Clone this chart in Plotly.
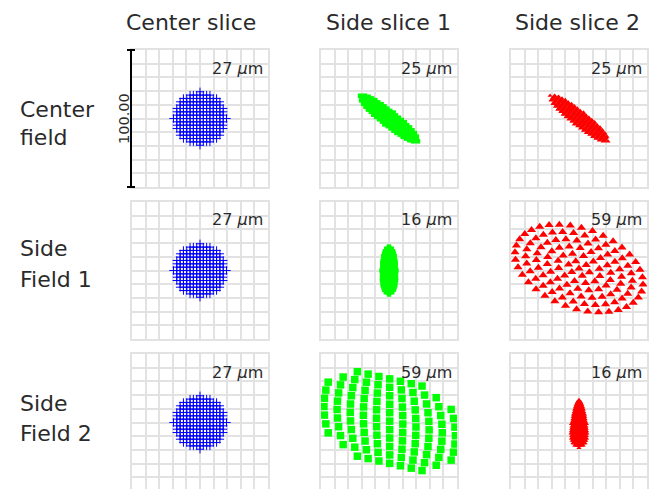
import numpy as np
import plotly.graph_objects as go

W, H = 657, 489

col_titles = ["Center slice", "Side slice 1", "Side slice 2"]
row_line1 = ["Center", "Side", "Side"]
row_line2 = ["field", "Field 1", "Field 2"]
rms_labels = [[27, 25, 25], [27, 16, 59], [27, 59, 16]]
scale_label = "100.00"

# spot envelope parameters (micrometres, relative to panel centre)
spot_cx = [[0, 0, 0], [0, 0, 0], [0, 0.5, 0]]
spot_cy = [[0, 0, 0], [0, 0, 1.5], [0, 1, -1]]
spot_a = [[19.5, 27, 27], [19.5, 17.5, 49], [19.5, 58, 17.5]]
spot_b = [[19.5, 5.5, 5.5], [19.5, 5.5, 29], [19.5, 37, 5.5]]
spot_ang = [[0, -38, -38], [0, 90, -20], [0, 0, 90]]
spot_shear = [[0, 0, 0], [0, 0, 0], [0, -0.22, 0]]
spot_bow = [[0, 0, 0], [0, 0, 0], [0, 0.35, 0]]
spot_taper = [[0, 0, 0], [0, 0.1, 0], [0, 0, 0.45]]
spot_pattern = [["blue", "fine", "fine"], ["blue", "fine", "rings"], ["blue", "coarse", "fine"]]
spot_size = [[6, 4.5, 4.5], [6, 4.5, 8], [6, 7.5, 4.5]]

# pupil sampling
pupil_blue = [-1.0, -0.875, -0.75, -0.625, -0.5, -0.375, -0.25, -0.125, 0.0,
              0.125, 0.25, 0.375, 0.5, 0.625, 0.75, 0.875, 1.0]
pupil_fine = [-1.0, -0.9, -0.8, -0.7, -0.6, -0.5, -0.4, -0.3, -0.2, -0.1, 0.0,
              0.1, 0.2, 0.3, 0.4, 0.5, 0.6, 0.7, 0.8, 0.9, 1.0]
pupil_coarse_u = [-1.0, -0.8333, -0.6667, -0.5, -0.3333, -0.1667, 0.0,
                  0.1667, 0.3333, 0.5, 0.6667, 0.8333, 1.0]
pupil_coarse_v = [-1.0, -0.8333, -0.6667, -0.5, -0.3333, -0.1667, 0.0,
                  0.1667, 0.3333, 0.5, 0.6667, 0.8333, 1.0]
ring_radius = [0.0, 0.1667, 0.3333, 0.5, 0.6667, 0.8333, 1.0]
ring_count = [1, 6, 12, 18, 24, 30, 36]

col_colors = ["#0000ff", "#00ff00", "#ff0000"]
col_symbols = ["cross-thin", "square", "triangle-up"]

FONT = "DejaVu Sans"
TXT = "#2a2a2a"
WEIGHT = 400

# layout in pixels
col_left = [132, 321, 511]
row_top = [50, 202, 354]
PW, PHt = 136, 137


def grid_pts(uvals, vvals, lim=1.0001):
    u, v = np.meshgrid(uvals, vvals)
    u, v = u.ravel(), v.ravel()
    m = u**2 + v**2 <= lim
    return u[m], v[m]


def ring_pts():
    us, vs = [], []
    for r, n in zip(ring_radius, ring_count):
        for k in range(n):
            t = 2 * np.pi * k / n
            us.append(r * np.cos(t))
            vs.append(r * np.sin(t))
    return np.array(us), np.array(vs)


fig = go.Figure()
layout = {}
annotations = []
shapes = []

for r in range(3):
    for c in range(3):
        idx = r * 3 + c + 1
        xa = "x" if idx == 1 else f"x{idx}"
        ya = "y" if idx == 1 else f"y{idx}"
        pat = spot_pattern[r][c]
        if pat == "blue":
            u, v = grid_pts(pupil_blue, pupil_blue)
        elif pat == "fine":
            u, v = grid_pts(pupil_fine, pupil_fine)
        elif pat == "coarse":
            u, v = grid_pts(pupil_coarse_u, pupil_coarse_v, 0.97)
        else:
            u, v = ring_pts()
        bow = spot_bow[r][c]
        u = u * (1 + bow * (1 - v**2)) / (1 + bow)
        v = v * (1 - spot_taper[r][c] * u)
        t = np.deg2rad(spot_ang[r][c])
        a, b = spot_a[r][c], spot_b[r][c]
        xl = a * u * np.cos(t) - b * v * np.sin(t)
        yl = a * u * np.sin(t) + b * v * np.cos(t)
        x = spot_cx[r][c] + xl
        y = spot_cy[r][c] + yl + spot_shear[r][c] * xl
        sym = col_symbols[c]
        if sym == "cross-thin":
            marker = dict(symbol=sym, size=spot_size[r][c], color=col_colors[c],
                          line=dict(color=col_colors[c], width=1))
        else:
            marker = dict(symbol=sym, size=spot_size[r][c], color=col_colors[c],
                          line=dict(width=0))
        fig.add_trace(go.Scatter(x=x, y=y, mode="markers", marker=marker,
                                 xaxis=xa, yaxis=ya, showlegend=False,
                                 hoverinfo="skip"))
        x0 = col_left[c] / W
        x1 = (col_left[c] + PW) / W
        top = row_top[r]
        bot = min(top + PHt, H)
        y1 = 1 - top / H
        y0 = 1 - bot / H
        yr_bottom = 50 - (bot - top) / PHt * 100
        axcommon = dict(showticklabels=False, ticks="", showgrid=True,
                        gridcolor="#e2e2e2", gridwidth=2, zeroline=False,
                        showline=True, linecolor="#e2e2e2", linewidth=2,
                        mirror=True, dtick=10, tick0=-50, fixedrange=True)
        layout["xaxis" if idx == 1 else f"xaxis{idx}"] = dict(
            domain=[x0, x1], range=[-50, 50], anchor=ya, **axcommon)
        layout["yaxis" if idx == 1 else f"yaxis{idx}"] = dict(
            domain=[y0, y1], range=[yr_bottom, 50], anchor=xa, **axcommon)
        annotations.append(dict(
            x=(col_left[c] + PW - 3) / W, y=1 - (top + 18) / H,
            xref="paper", yref="paper", xanchor="right", yanchor="middle",
            text=f"{rms_labels[r][c]} <i>μ</i>m", showarrow=False,
            font=dict(size=16, color=TXT, family=FONT, weight=WEIGHT)))

title_cx = [191, 388, 577]
for c in range(3):
    annotations.append(dict(
        x=title_cx[c] / W, y=1 - 22 / H, xref="paper", yref="paper",
        xanchor="center", yanchor="middle", text=col_titles[c], showarrow=False,
        font=dict(size=22, color=TXT, family=FONT, weight=WEIGHT)))

row_y1 = [110, 249, 403]
row_y2 = [138, 279, 433]
for r in range(3):
    for txt, yy in ((row_line1[r], row_y1[r]), (row_line2[r], row_y2[r])):
        annotations.append(dict(
            x=18 / W, y=1 - yy / H, xref="paper", yref="paper",
            xanchor="left", yanchor="middle", align="left", text=txt,
            showarrow=False,
            font=dict(size=22, color=TXT, family=FONT, weight=WEIGHT)))

# scale bar
sx = 131 / W
shapes.append(dict(type="line", xref="paper", yref="paper", x0=sx, x1=sx,
                   y0=1 - 50 / H, y1=1 - 187 / H, line=dict(color="black", width=2)))
for py in (50, 187):
    shapes.append(dict(type="line", xref="paper", yref="paper",
                       x0=127 / W, x1=135 / W, y0=1 - py / H, y1=1 - py / H,
                       line=dict(color="black", width=2)))
annotations.append(dict(
    x=124 / W, y=1 - 119 / H, xref="paper", yref="paper", xanchor="center",
    yanchor="middle", text=scale_label, textangle=-90, showarrow=False,
    font=dict(size=14.5, color=TXT, family=FONT, weight=WEIGHT)))

fig.update_layout(width=W, height=H, margin=dict(l=0, r=0, t=0, b=0),
                  paper_bgcolor="white", plot_bgcolor="white",
                  annotations=annotations, shapes=shapes, **layout)
fig.write_html("out.html", config={"displayModeBar": False},
               post_script="document.body.style.margin='0px';document.body.style.overflow='hidden';")
